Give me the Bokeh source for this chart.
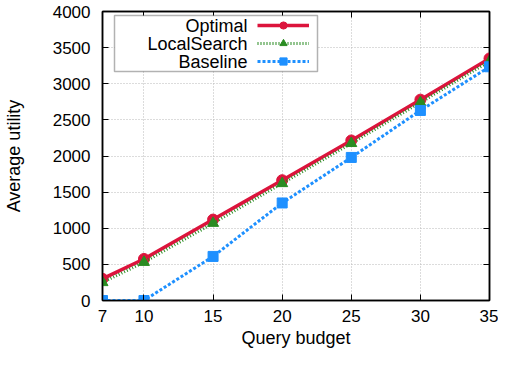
from bokeh.plotting import figure
from bokeh.models import (FixedTicker, LinearAxis, Legend, LegendItem, Label,
                          BoxAnnotation, Range1d)
from bokeh.embed import file_html
from bokeh.resources import INLINE

budgets = [7, 10, 15, 20, 25, 30, 35]
optimal = [300, 575, 1120, 1665, 2215, 2780, 3350]
local_search = [250, 530, 1070, 1620, 2175, 2740, 3310]
baseline = [0, 0, 610, 1350, 1980, 2630, 3235]
x_ticks = [7, 10, 15, 20, 25, 30, 35]
y_ticks = [0, 500, 1000, 1500, 2000, 2500, 3000, 3500, 4000]
series_names = ["Optimal", "LocalSearch", "Baseline"]

FONT = "Liberation Sans"
RED = "#dc143c"
GREEN = "#2a8c22"
BLUE = "#1e90ff"

p = figure(width=498, height=351, output_backend="svg", toolbar_location=None,
           x_range=Range1d(7, 35), y_range=Range1d(0, 4000),
           min_border_left=101, min_border_right=9, min_border_top=11,
           min_border_bottom=51)
p.outline_line_color = "black"
p.outline_line_width = 1.5
p.background_fill_color = "white"
p.border_fill_color = "white"

for ax in (p.xaxis[0], p.yaxis[0]):
    ax.ticker = FixedTicker(ticks=x_ticks if ax is p.xaxis[0] else y_ticks)
    ax.axis_line_color = "black"
    ax.axis_line_width = 1.5
    ax.major_tick_in = 6
    ax.major_tick_out = 0
    ax.minor_tick_in = 0
    ax.minor_tick_out = 0
    ax.major_label_text_font = FONT
    ax.major_label_text_font_size = "17px"
    ax.major_label_text_color = "black"
    ax.axis_label_text_font = FONT
    ax.axis_label_text_font_size = "18px"
    ax.axis_label_text_font_style = "normal"
    ax.axis_label_text_color = "black"

p.xaxis[0].axis_label = "Query budget"
p.xaxis[0].major_label_standoff = 9
p.xaxis[0].axis_label_standoff = 3
p.yaxis[0].axis_label = "Average utility"
p.yaxis[0].major_label_standoff = 12
p.yaxis[0].axis_label_standoff = 26

# mirrored ticks (no labels drawn)
top = LinearAxis(ticker=FixedTicker(ticks=x_ticks))
right = LinearAxis(ticker=FixedTicker(ticks=y_ticks))
for ax in (top, right):
    ax.major_tick_in = 6
    ax.major_tick_out = 0
    ax.minor_tick_in = 0
    ax.minor_tick_out = 0
    ax.major_label_text_font_size = "1px"
    ax.major_label_text_alpha = 0
    ax.major_label_text_color = None
    ax.major_label_standoff = 0
    ax.axis_line_color = "black"
    ax.axis_line_width = 1.5
p.add_layout(top, "above")
p.add_layout(right, "right")

for g in (p.xgrid[0], p.ygrid[0]):
    g.grid_line_color = "#b8b8b8"
    g.grid_line_dash = "1 2"
    g.grid_line_width = 1
p.xgrid[0].ticker = FixedTicker(ticks=x_ticks)
p.ygrid[0].ticker = FixedTicker(ticks=y_ticks)

l1 = p.line(budgets, optimal, color=RED, line_width=3.5)
m1 = p.scatter(budgets, optimal, marker="circle", size=11, color=RED)
l2 = p.line(budgets, local_search, color=GREEN, line_width=3, line_dash="1 2")
m2 = p.scatter(budgets, local_search, marker="triangle", size=11, color=GREEN)
l3 = p.line(budgets, baseline, color=BLUE, line_width=3, line_dash="3 2")
m3 = p.scatter(budgets, baseline, marker="square", size=10, color=BLUE)

# legend box (gnuplot style: label left, sample right)
box = BoxAnnotation(left=12, right=215, top=285, bottom=229,
                    left_units="screen", right_units="screen",
                    top_units="screen", bottom_units="screen",
                    fill_color="white", fill_alpha=1.0,
                    line_color="black", line_width=1.5)
p.add_layout(box)

legend = Legend(items=[LegendItem(label=" ", renderers=[l1, m1]),
                       LegendItem(label=" ", renderers=[l2, m2]),
                       LegendItem(label=" ", renderers=[l3, m3])],
                location=(155, 230), glyph_width=52, glyph_height=18,
                spacing=0, padding=0, margin=0, label_width=0,
                label_standoff=0, label_text_font_size="1px",
                label_text_alpha=0,
                background_fill_alpha=0, border_line_alpha=0)
p.add_layout(legend, "center")

row_y = [275, 257, 239]
for name, yy in zip(series_names, row_y):
    p.add_layout(Label(x=145, y=yy, x_units="screen", y_units="screen",
                       text=name, text_align="right", text_baseline="middle",
                       text_font=FONT, text_font_size="18px",
                       text_color="black"))

open("out.html", "w").write(file_html(p, INLINE))
